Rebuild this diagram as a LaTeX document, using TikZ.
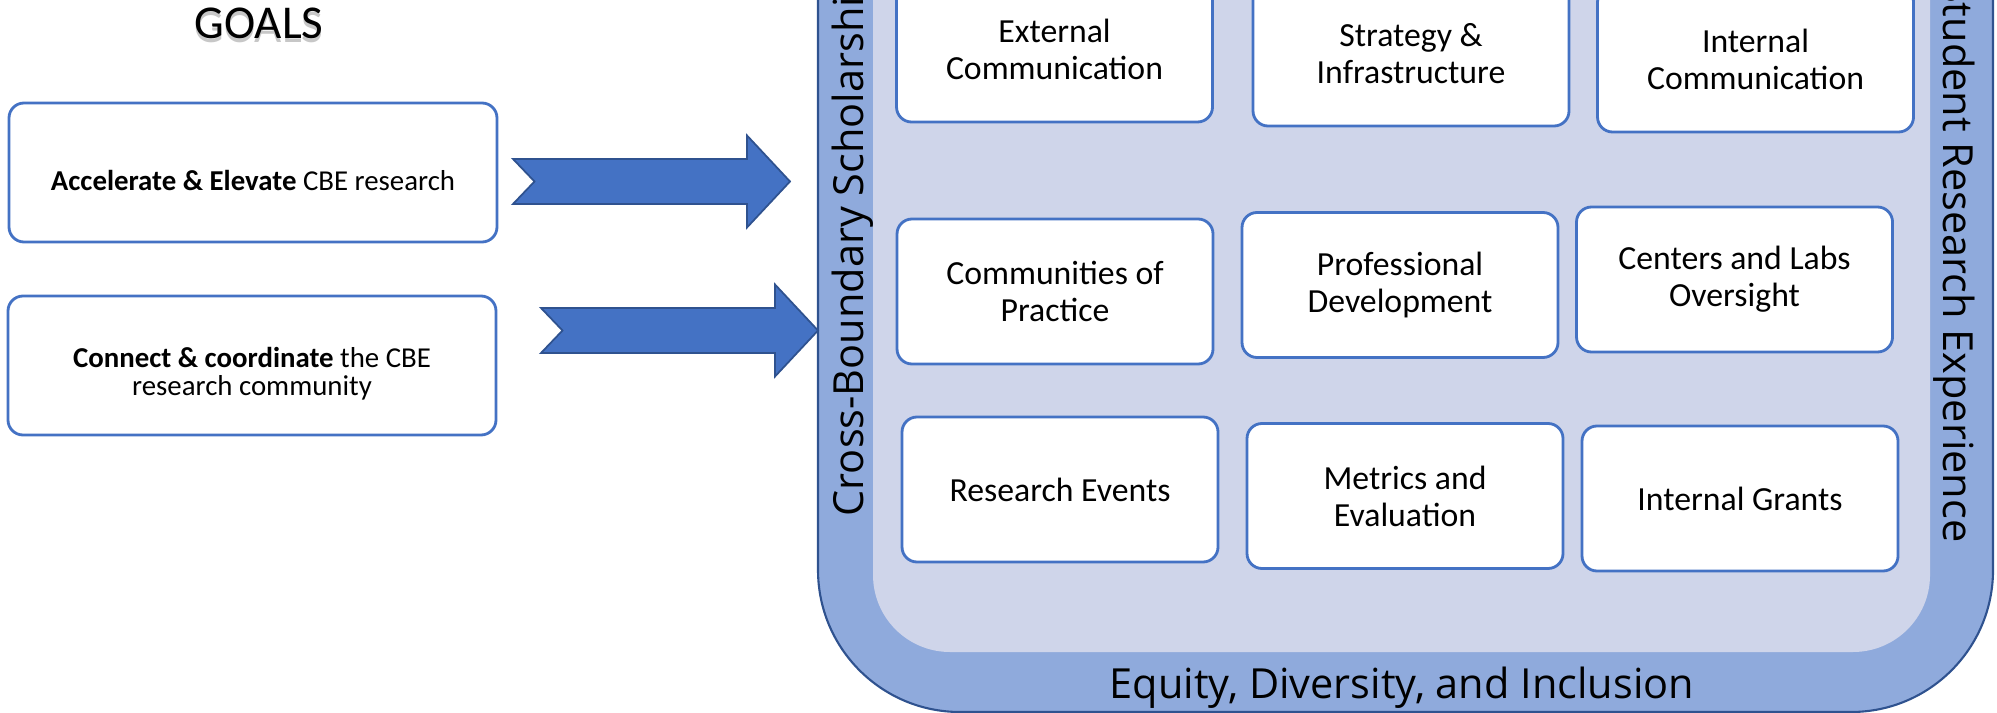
\documentclass[tikz,border=0pt]{standalone}
\usepackage{fontspec}
\setmainfont{Carlito}
\newfontfamily\bandfont{Open Sans}
\usepackage{xcolor}
\usepackage{tikz}

\definecolor{boxblue}{HTML}{4472C4}
\definecolor{edgeblue}{HTML}{2F528F}
\definecolor{bandblue}{HTML}{8FAADC}
\definecolor{innerblue}{HTML}{CFD5EA}

\begin{document}
\begin{tikzpicture}[x=0.1mm,y=-0.1mm,
    goalbox/.style={draw=boxblue,line width=0.8pt,rounded corners=1.5mm,fill=white,
        minimum width=4.88cm,minimum height=1.39cm,inner sep=0pt},
    goaltext/.style={align=center,inner sep=0pt,font=\fontsize{8.2}{8}\selectfont},
    unitbox/.style={draw=boxblue,line width=0.8pt,rounded corners=1.5mm,fill=white,
        minimum width=3.16cm,minimum height=1.45cm,inner sep=0pt,align=center,
        font=\fontsize{9.6}{10.5}\selectfont},
    bandtext/.style={inner sep=0pt,font=\bandfont\fontsize{11.8}{14}\selectfont},
    titletext/.style={inner sep=0pt,font=\fontsize{13.4}{16}\selectfont},
    bigarrow/.style={fill=boxblue,draw=edgeblue,line width=0.5pt}]

    \useasboundingbox (0,0) rectangle (1997,713);
    \clip (0,0) rectangle (1997,713);

    % Frame
    \filldraw[fill=bandblue,draw=edgeblue,line width=0.6pt,rounded corners=1.42cm]
        (818,-300) rectangle (1993,712);
    \fill[innerblue,rounded corners=0.77cm] (873,-300) rectangle (1930,652);

    % Frame labels
    \node[bandtext,rotate=90,anchor=west] (cross) at (853,517) {Cross-Boundary Scholarship};
    \node[bandtext,rotate=-90,anchor=east] (student) at (1954,543) {Student Research Experience};
    \node[bandtext,anchor=base] (equity) at (1402,698) {Equity, Diversity, and Inclusion};

    % Units
    \node[unitbox] (extcomm) at (1054.5,49.5) {External\\Communication};
    \node[unitbox] (strategy) at (1411,53.5) {Strategy \&\\Infrastructure};
    \node[unitbox] (intcomm) at (1755.5,59.5) {Internal\\Communication};
    \node[unitbox] (practice) at (1055,291.5) {Communities of\\Practice};
    \node[unitbox] (profdev) at (1400,285) {Professional\\Development};
    \node[unitbox] (centers) at (1734.5,279.5) {Centers and Labs\\Oversight};
    \node[unitbox] (events) at (1060,489.5) {Research Events};
    \node[unitbox] (metrics) at (1405,496) {Metrics and\\Evaluation};
    \node[unitbox] (grants) at (1740,498.5) {Internal Grants};

    % Goals (light shadow under the title)
    \node[titletext,text=black!22] (goalsshadow) at (259,27) {GOALS};
    \node[titletext] (goals) at (259,23) {GOALS};
    \node[goalbox] (accel) at (253,172.5) {};
    \node[goaltext] (acceltext) at ([yshift=-0.8mm]accel.center)
        {\textbf{Accelerate \& Elevate} CBE research};
    \node[goalbox] (connect) at (252,365.5) {};
    \node[goaltext] (connecttext) at ([yshift=-0.85mm]connect.center)
        {\textbf{Connect \& coordinate} the CBE\\research community};

    % Notched arrows
    \foreach \xa/\xb/\yc in {513/790/181.5,541/818/330.5}
        \draw[bigarrow] (\xa,\yc-22.5) -- (\xb-43,\yc-22.5) -- (\xb-43,\yc-46) -- (\xb,\yc)
            -- (\xb-43,\yc+46) -- (\xb-43,\yc+22.5) -- (\xa,\yc+22.5) -- (\xa+21.5,\yc) -- cycle;
\end{tikzpicture}
\end{document}
